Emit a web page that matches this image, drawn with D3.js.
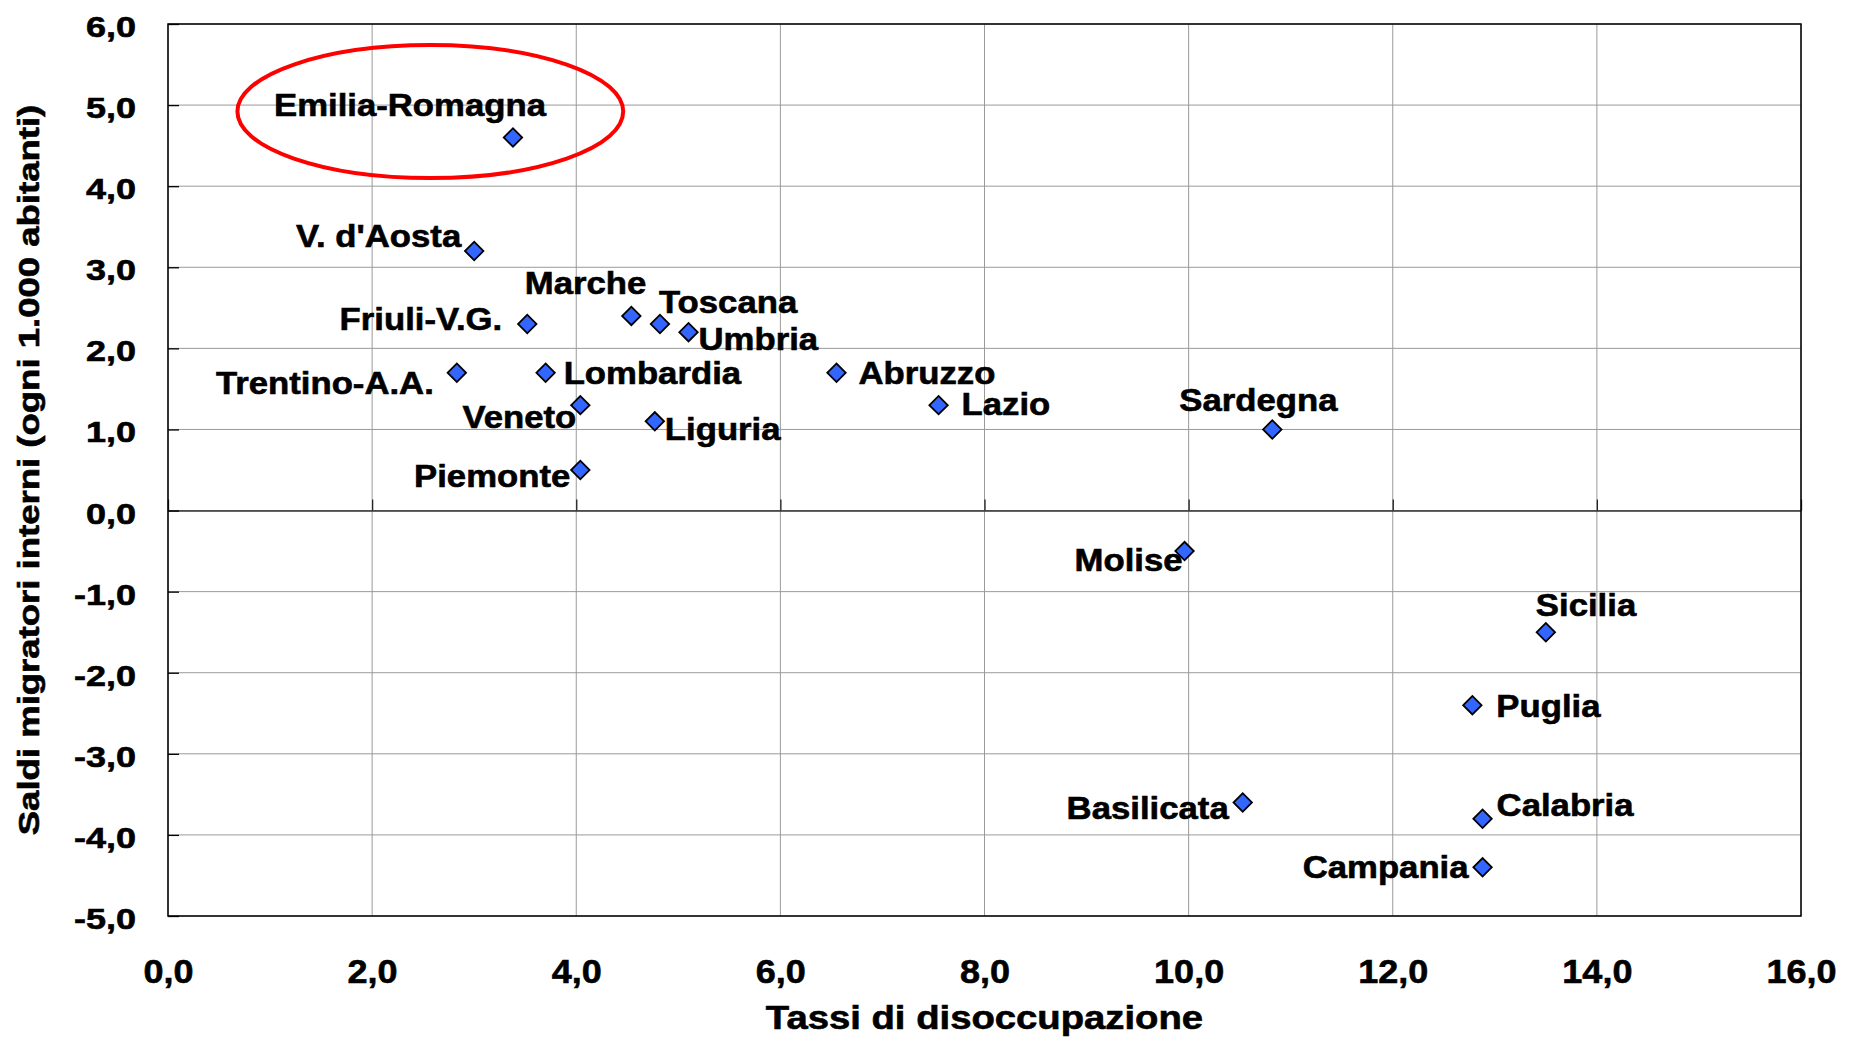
<!DOCTYPE html>
<html>
<head>
<meta charset="utf-8">
<script src="https://cdn.jsdelivr.net/npm/d3@7"></script>
<style>
  html, body { margin: 0; padding: 0; background: #ffffff; }
  svg { display: block; }
  text { font-family: "Liberation Sans", Arial, "DejaVu Sans", sans-serif; font-weight: bold; fill: #000; stroke: #000; stroke-width: 0.6px; }
</style>
</head>
<body>
<svg id="chart" width="1856" height="1040"></svg>
<script>
// ---- data ----
const regions = ["Emilia-Romagna", "V. d'Aosta", "Marche", "Toscana", "Umbria", "Friuli-V.G.",
  "Trentino-A.A.", "Lombardia", "Veneto", "Liguria", "Piemonte", "Abruzzo", "Lazio",
  "Sardegna", "Molise", "Sicilia", "Puglia", "Calabria", "Campania", "Basilicata"];
const tassiDisoccupazione = [3.38, 3.00, 4.54, 4.82, 5.10, 3.52, 2.83, 3.70, 4.04, 4.77, 4.04,
  6.55, 7.55, 10.82, 9.96, 13.50, 12.78, 12.88, 12.88, 10.53];
const saldiMigratori = [4.6, 3.2, 2.4, 2.3, 2.2, 2.3, 1.7, 1.7, 1.3, 1.1, 0.5,
  1.7, 1.3, 1.0, -0.5, -1.5, -2.4, -3.8, -4.4, -3.6];
const xTicks = [0, 2, 4, 6, 8, 10, 12, 14, 16];
const yTicks = [-5, -4, -3, -2, -1, 0, 1, 2, 3, 4, 5, 6];
const xTitle = "Tassi di disoccupazione";
const yTitle = "Saldi migratori interni (ogni 1.000 abitanti)";
// highlighted region (annotation ellipse) in data units
const highlight = { cx: 2.57, cy: 4.92, rx: 1.89, ry: 0.82 };

// ---- layout (label placement relative to the marker, in px) ----
const labelLayout = {
  "Emilia-Romagna": { anchor: "end", dx: 33, dy: -22 },
  "V. d'Aosta": { anchor: "end", dx: -13, dy: -4 },
  "Marche": { anchor: "end", dx: 15, dy: -22 },
  "Toscana": { anchor: "start", dx: -1, dy: -11 },
  "Umbria": { anchor: "start", dx: 10, dy: 18 },
  "Friuli-V.G.": { anchor: "end", dx: -25, dy: 6 },
  "Trentino-A.A.": { anchor: "end", dx: -23, dy: 21 },
  "Lombardia": { anchor: "start", dx: 18, dy: 11 },
  "Veneto": { anchor: "end", dx: -4, dy: 23 },
  "Liguria": { anchor: "start", dx: 10, dy: 19 },
  "Piemonte": { anchor: "end", dx: -10, dy: 17 },
  "Abruzzo": { anchor: "start", dx: 22, dy: 11 },
  "Lazio": { anchor: "start", dx: 23, dy: 10 },
  "Sardegna": { anchor: "start", dx: -93, dy: -18 },
  "Molise": { anchor: "end", dx: -2, dy: 20 },
  "Sicilia": { anchor: "start", dx: -10, dy: -16 },
  "Puglia": { anchor: "start", dx: 24, dy: 12 },
  "Calabria": { anchor: "start", dx: 14, dy: -3 },
  "Campania": { anchor: "end", dx: -14, dy: 11 },
  "Basilicata": { anchor: "end", dx: -14, dy: 17 }
};

const plot = { left: 168, right: 1801, top: 24, bottom: 916 };

const svg = d3.select("#chart");
const x = d3.scaleLinear().domain([0, 16]).range([plot.left, plot.right]);
const y = d3.scaleLinear().domain([-5, 6]).range([plot.bottom, plot.top]);

const itLocale = d3.formatLocale({ decimal: ",", thousands: ".", grouping: [3], currency: ["", " €"], minus: "-" });
const fmt = itLocale.format(".1f");

// gridlines
const grid = svg.append("g").attr("class", "grid");
grid.selectAll("line.gx").data(xTicks).join("line")
  .attr("x1", d => x(d)).attr("x2", d => x(d))
  .attr("y1", plot.top).attr("y2", plot.bottom)
  .attr("stroke", "#9a9a9a").attr("stroke-width", 1);
grid.selectAll("line.gy").data(yTicks).join("line")
  .attr("x1", plot.left).attr("x2", plot.right)
  .attr("y1", d => y(d)).attr("y2", d => y(d))
  .attr("stroke", "#9a9a9a").attr("stroke-width", 1);

// zero-line x axis with upward ticks
const xZero = svg.append("g")
  .attr("transform", `translate(0,${y(0)})`)
  .call(d3.axisBottom(x).tickValues(xTicks).tickSizeInner(-11).tickSizeOuter(0).tickFormat(""));
xZero.select(".domain").attr("stroke", "#333").attr("stroke-width", 1.6);
xZero.selectAll(".tick line").attr("stroke", "#222").attr("stroke-width", 1.3);

// plot border
svg.append("rect")
  .attr("x", plot.left).attr("y", plot.top)
  .attr("width", plot.right - plot.left).attr("height", plot.bottom - plot.top)
  .attr("fill", "none").attr("stroke", "#000").attr("stroke-width", 1.5);

// y axis (inward ticks + labels)
const yAxis = svg.append("g")
  .attr("transform", `translate(${plot.left},0)`)
  .call(d3.axisLeft(y).tickValues(yTicks).tickSizeInner(-11).tickSizeOuter(0).tickPadding(32).tickFormat(fmt));
yAxis.select(".domain").remove();
yAxis.selectAll(".tick line").attr("stroke", "#000").attr("stroke-width", 1.3);
yAxis.selectAll(".tick text")
  .attr("x", null).attr("dy", null)
  .attr("transform", "translate(-32,12.5) scale(1.2,1)")
  .attr("text-anchor", "end")
  .style("font-size", "30px").style("font-weight", "bold")
  .style("font-family", '"Liberation Sans", Arial, sans-serif').attr("fill", "#000");

// x axis labels at the bottom
const xAxis = svg.append("g")
  .attr("transform", `translate(0,${plot.bottom})`)
  .call(d3.axisBottom(x).tickValues(xTicks).tickSize(0).tickFormat(fmt));
xAxis.select(".domain").remove();
xAxis.selectAll(".tick text")
  .attr("y", null).attr("dy", null)
  .attr("transform", `translate(0,${983 - plot.bottom}) scale(1.06,1)`)
  .attr("text-anchor", "middle")
  .style("font-size", "34px").style("font-weight", "bold")
  .style("font-family", '"Liberation Sans", Arial, sans-serif').attr("fill", "#000");

// axis titles
svg.append("text")
  .attr("transform", `translate(${(plot.left + plot.right) / 2},1029) scale(1.16,1)`)
  .attr("text-anchor", "middle")
  .style("font-size", "33px")
  .text(xTitle);
svg.append("text")
  .attr("transform", `translate(39,${(plot.top + plot.bottom) / 2}) rotate(-90) scale(1.26,1)`)
  .attr("text-anchor", "middle")
  .style("font-size", "29px")
  .text(yTitle);

// points
const points = regions.map((r, i) => ({ name: r, xv: tassiDisoccupazione[i], yv: saldiMigratori[i] }));
const diamond = d3.symbol().type(d3.symbolSquare).size(170);
svg.append("g").selectAll("path").data(points).join("path")
  .attr("d", diamond)
  .attr("transform", d => `translate(${x(d.xv)},${y(d.yv)}) rotate(45)`)
  .attr("fill", "#3366ff").attr("stroke", "#000").attr("stroke-width", 1.8);

// labels
svg.append("g").selectAll("text").data(points).join("text")
  .attr("transform", d => {
    const L = labelLayout[d.name];
    return `translate(${x(d.xv) + L.dx},${y(d.yv) + L.dy}) scale(1.12,1)`;
  })
  .attr("text-anchor", d => labelLayout[d.name].anchor)
  .style("font-size", "31px")
  .text(d => d.name);

// annotation ellipse
svg.append("ellipse")
  .attr("cx", x(highlight.cx)).attr("cy", y(highlight.cy))
  .attr("rx", x(highlight.rx) - x(0)).attr("ry", y(0) - y(highlight.ry))
  .attr("fill", "none").attr("stroke", "#ff0000").attr("stroke-width", 4);
</script>
</body>
</html>
